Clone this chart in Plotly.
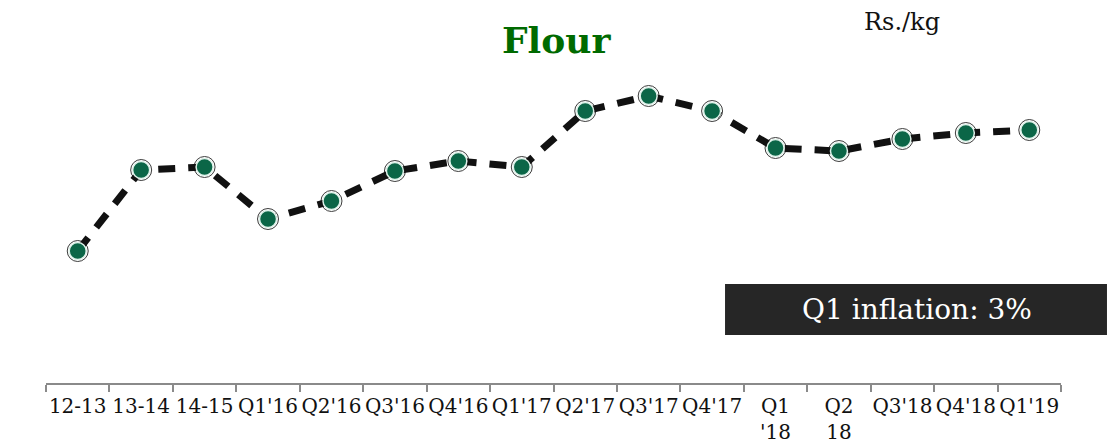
import plotly.graph_objects as go

# Flour price, Rs./kg, by period
periods = ["12-13", "13-14", "14-15", "Q1'16", "Q2'16", "Q3'16", "Q4'16", "Q1'17",
           "Q2'17", "Q3'17", "Q4'17", "Q1<br>'18", "Q2<br>18", "Q3'18", "Q4'18", "Q1'19"]
price = [32.45, 36.5, 36.65, 34.05, 34.95, 36.45, 36.95, 36.65,
         39.45, 40.2, 39.45, 37.6, 37.45, 38.05, 38.35, 38.5]

title_text = "Flour"
unit_text = "Rs./kg"
callout_text = "Q1 inflation: 3%"

serif = "DejaVu Serif, Liberation Serif, serif"

fig = go.Figure()

# outer ring around each point
fig.add_trace(go.Scatter(
    x=periods, y=price, mode="markers", hoverinfo="skip",
    marker=dict(symbol="circle-open", size=21, color="#3c3c3c", line=dict(width=1)),
))

# dashed line with filled markers
fig.add_trace(go.Scatter(
    x=periods, y=price, mode="lines+markers",
    line=dict(color="#111111", width=7, dash="17px,13px"),
    marker=dict(size=17, color="#0b6647", line=dict(color="#dff2ea", width=1.5)),
))

fig.update_layout(
    width=1107, height=448,
    margin=dict(l=46, r=46, t=60, b=65),
    paper_bgcolor="white", plot_bgcolor="white",
    showlegend=False,
    font=dict(family=serif, color="#111111"),
    xaxis=dict(
        type="category", range=[-0.5, 15.5], tickson="boundaries",
        showline=True, linecolor="#8a8a8a", linewidth=2,
        ticks="outside", ticklen=7, tickcolor="#8a8a8a", tickwidth=2,
        showgrid=False, zeroline=False, automargin=False,
        tickfont=dict(family=serif, size=20, color="#111111"),
        tickangle=0, ticklabelstandoff=4,
    ),
    yaxis=dict(range=[25.85, 42], visible=False, showgrid=False, zeroline=False),
    shapes=[dict(
        type="rect", xref="paper", yref="paper",
        x0=0.669, x1=1.0453, y0=0.1486, y1=0.3065,
        fillcolor="#262626", line=dict(width=0), layer="above",
    )],
    annotations=[
        dict(text=f"<b>{title_text}</b>", xref="paper", yref="paper",
             x=0.503, y=1.0, yanchor="bottom", xanchor="center", yshift=-3,
             showarrow=False, font=dict(family=serif, size=36, color="#006a00")),
        dict(text=unit_text, xref="paper", yref="paper",
             x=0.843, y=1.0, yanchor="bottom", xanchor="center", yshift=22,
             showarrow=False, font=dict(family=serif, size=24, color="#111111")),
        dict(text=callout_text, xref="paper", yref="paper",
             x=0.858, y=0.2275, xanchor="center", yanchor="middle",
             showarrow=False, font=dict(family=serif, size=28, color="white")),
    ],
)

fig.write_html("out.html")
